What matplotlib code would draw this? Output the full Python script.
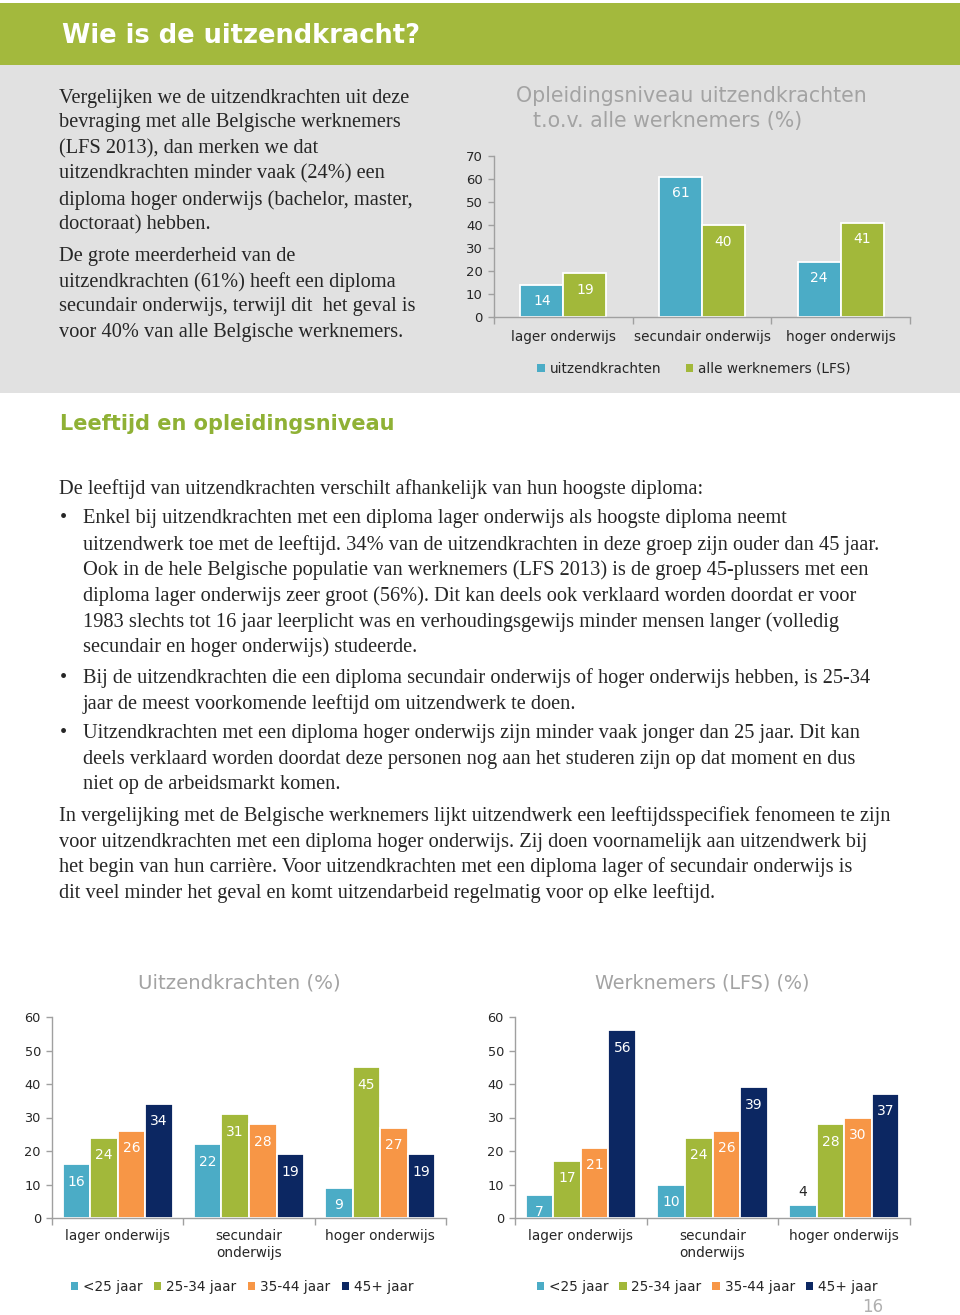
import matplotlib
matplotlib.use('Agg')
import matplotlib.pyplot as plt
from matplotlib.patches import Rectangle
import numpy as np

W, H = 960, 1315

# ---------------- data ----------------
edu_levels = ['lager onderwijs', 'secundair onderwijs', 'hoger onderwijs']
edu_levels_wrapped = ['lager onderwijs', 'secundair\nonderwijs', 'hoger onderwijs']
uitzendkrachten = [14, 61, 24]
alle_werknemers = [19, 40, 41]

age_groups = ['<25 jaar', '25-34 jaar', '35-44 jaar', '45+ jaar']
uitz_lt25 = [16, 22, 9]
uitz_25_34 = [24, 31, 45]
uitz_35_44 = [26, 28, 27]
uitz_45plus = [34, 19, 19]
lfs_lt25 = [7, 10, 4]
lfs_25_34 = [17, 24, 28]
lfs_35_44 = [21, 26, 30]
lfs_45plus = [56, 39, 37]

intro_lines = [
    "Vergelijken we de uitzendkrachten uit deze",
    "bevraging met alle Belgische werknemers",
    "(LFS 2013), dan merken we dat",
    "uitzendkrachten minder vaak (24%) een",
    "diploma hoger onderwijs (bachelor, master,",
    "doctoraat) hebben.",
    "De grote meerderheid van de",
    "uitzendkrachten (61%) heeft een diploma",
    "secundair onderwijs, terwijl dit  het geval is",
    "voor 40% van alle Belgische werknemers.",
]
intro_y = [96, 121, 147, 172, 198, 223, 254, 280, 305, 331]

body_lines = [
    (0, "De leeftijd van uitzendkrachten verschilt afhankelijk van hun hoogste diploma:"),
    (2, "Enkel bij uitzendkrachten met een diploma lager onderwijs als hoogste diploma neemt"),
    (1, "uitzendwerk toe met de leeftijd. 34% van de uitzendkrachten in deze groep zijn ouder dan 45 jaar."),
    (1, "Ook in de hele Belgische populatie van werknemers (LFS 2013) is de groep 45-plussers met een"),
    (1, "diploma lager onderwijs zeer groot (56%). Dit kan deels ook verklaard worden doordat er voor"),
    (1, "1983 slechts tot 16 jaar leerplicht was en verhoudingsgewijs minder mensen langer (volledig"),
    (1, "secundair en hoger onderwijs) studeerde."),
    (2, "Bij de uitzendkrachten die een diploma secundair onderwijs of hoger onderwijs hebben, is 25-34"),
    (1, "jaar de meest voorkomende leeftijd om uitzendwerk te doen."),
    (2, "Uitzendkrachten met een diploma hoger onderwijs zijn minder vaak jonger dan 25 jaar. Dit kan"),
    (1, "deels verklaard worden doordat deze personen nog aan het studeren zijn op dat moment en dus"),
    (1, "niet op de arbeidsmarkt komen."),
    (0, "In vergelijking met de Belgische werknemers lijkt uitzendwerk een leeftijdsspecifiek fenomeen te zijn"),
    (0, "voor uitzendkrachten met een diploma hoger onderwijs. Zij doen voornamelijk aan uitzendwerk bij"),
    (0, "het begin van hun carrière. Voor uitzendkrachten met een diploma lager of secundair onderwijs is"),
    (0, "dit veel minder het geval en komt uitzendarbeid regelmatig voor op elke leeftijd."),
]
body_y = [487, 517, 543, 568, 594, 620, 645, 676, 702, 732, 758, 783, 814, 840, 865, 891]

# ---------------- style ----------------
CYAN = '#4bacc6'
GREEN = '#a2b83a'
ORANGE = '#f79646'
NAVY = '#0c2762'
HEADER_GREEN = '#a3b93d'
BAND_GRAY = '#e1e1e1'
AXIS_GRAY = '#a0a0a0'
TEXT_DARK = '#262626'
TITLE_GRAY = '#a3a3a3'
SANS = 'DejaVu Sans'
SERIF = 'Liberation Serif'
BODY_SIZE = 14.7

fig = plt.figure(figsize=(W / 100, H / 100), dpi=100)
fig.patch.set_facecolor('white')


def fx(x):
    return x / W


def fy(y):
    return 1 - y / H


def px_axes(x0, y_top, x1, y_bot):
    return fig.add_axes([fx(x0), fy(y_bot), (x1 - x0) / W, (y_bot - y_top) / H])


# background bands (below everything)
fig.patches.append(Rectangle((0, fy(65)), 1, (65 - 3) / H, transform=fig.transFigure,
                             facecolor=HEADER_GREEN, edgecolor='none', zorder=-10))
fig.patches.append(Rectangle((0, fy(393)), 1, (393 - 65) / H, transform=fig.transFigure,
                             facecolor=BAND_GRAY, edgecolor='none', zorder=-10))

fig.text(fx(62), fy(36), "Wie is de uitzendkracht?", color='white', fontsize=18.5,
         fontweight='bold', family=SANS, va='center', ha='left')

for line, y in zip(intro_lines, intro_y):
    fig.text(fx(59), fy(y + 2), line, fontsize=BODY_SIZE, family=SERIF, color=TEXT_DARK,
             va='center', ha='left')

fig.text(fx(60), fy(424), "Leeftijd en opleidingsniveau", color='#8fb135', fontsize=15,
         fontweight='bold', family=SANS, va='center', ha='left')

for (kind, line), y in zip(body_lines, body_y):
    if kind == 2:
        fig.text(fx(60), fy(y + 2), "\u2022", fontsize=BODY_SIZE, family=SERIF, color=TEXT_DARK,
                 va='center', ha='left')
    x = 59 if kind == 0 else 83
    fig.text(fx(x), fy(y + 2), line, fontsize=BODY_SIZE, family=SERIF, color=TEXT_DARK,
             va='center', ha='left')

fig.text(fx(873), fy(1307), "16", fontsize=12, family=SANS, color='#b0b0b0',
         va='center', ha='center')


def style_axes(ax, ymax, step, labels, label_pad, ytick_size):
    n = len(labels)
    ax.set_xlim(-0.5, n - 0.5)
    ax.set_ylim(0, ymax)
    ax.set_yticks(np.arange(0, ymax + 1, step))
    ax.set_xticks(np.arange(-0.5, n, 1.0))
    ax.set_xticklabels([])
    ax.set_xticks(np.arange(n), minor=True)
    ax.set_xticklabels(labels, minor=True, fontsize=9.8, family=SANS, color=TEXT_DARK,
                       linespacing=1.25)
    ax.tick_params(axis='x', which='major', length=5, width=1, color=AXIS_GRAY,
                   direction='out')
    ax.tick_params(axis='x', which='minor', length=0, pad=label_pad)
    ax.tick_params(axis='y', length=4, width=1, color=AXIS_GRAY, labelsize=ytick_size,
                   labelcolor=TEXT_DARK, pad=4)
    for lab in ax.get_yticklabels():
        lab.set_family(SANS)
    for s in ('top', 'right'):
        ax.spines[s].set_visible(False)
    for s in ('left', 'bottom'):
        ax.spines[s].set_color(AXIS_GRAY)
        ax.spines[s].set_linewidth(1)
    ax.patch.set_visible(False)


def draw_bars(ax, series, colors, width, offset_pt):
    n = len(series)
    x = np.arange(len(series[0]))
    for i, (vals, col) in enumerate(zip(series, colors)):
        xs = x + (i - (n - 1) / 2) * width
        ax.bar(xs, vals, width=width, color=col, edgecolor='white', linewidth=1.3, zorder=2)
        for xi, v in zip(xs, vals):
            if v < 5:
                ax.annotate(str(v), (xi, v), xytext=(0, 9), textcoords='offset points',
                            ha='center', va='center', color=TEXT_DARK, fontsize=10,
                            family=SANS, zorder=3)
            else:
                ax.annotate(str(v), (xi, v), xytext=(0, -offset_pt), textcoords='offset points',
                            ha='center', va='center', color='white', fontsize=10,
                            family=SANS, zorder=3)


def add_legend(ax, labels, colors, cx, cy, colspace):
    handles = [Rectangle((0, 0), 1, 1, facecolor=c, edgecolor='none') for c in colors]
    ax.legend(handles, labels, loc='center', bbox_to_anchor=(fx(cx), fy(cy)),
              bbox_transform=fig.transFigure, ncol=len(labels), frameon=False,
              handlelength=0.55, handleheight=0.55, handletextpad=0.35,
              columnspacing=colspace, prop={'family': SANS, 'size': 9.8},
              labelcolor=TEXT_DARK, borderpad=0, borderaxespad=0)


# ---------- top chart ----------
ax1 = px_axes(494, 156, 910, 317)
style_axes(ax1, 70, 10, edu_levels, 9, 9.5)
draw_bars(ax1, [uitzendkrachten, alle_werknemers], [CYAN, GREEN], 0.31, 12)
fig.text(fx(691), fy(96), "Opleidingsniveau uitzendkrachten", fontsize=14.8, family=SANS,
         color=TITLE_GRAY, ha='center', va='center')
fig.text(fx(668), fy(121), "t.o.v. alle werknemers (%)", fontsize=14.8, family=SANS,
         color=TITLE_GRAY, ha='center', va='center')
add_legend(ax1, ['uitzendkrachten', 'alle werknemers (LFS)'], [CYAN, GREEN], 694, 369, 1.8)

# ---------- bottom left chart ----------
age_colors = [CYAN, GREEN, ORANGE, NAVY]
ax2 = px_axes(52, 1017, 446, 1218)
style_axes(ax2, 60, 10, edu_levels_wrapped, 8, 9.3)
draw_bars(ax2, [uitz_lt25, uitz_25_34, uitz_35_44, uitz_45plus], age_colors, 0.21, 12.5)
fig.text(fx(239), fy(983), "Uitzendkrachten (%)", fontsize=14.2, family=SANS,
         color=TITLE_GRAY, ha='center', va='center')
add_legend(ax2, age_groups, age_colors, 242, 1287, 0.85)

# ---------- bottom right chart ----------
ax3 = px_axes(515, 1017, 910, 1218)
style_axes(ax3, 60, 10, edu_levels_wrapped, 8, 9.3)
draw_bars(ax3, [lfs_lt25, lfs_25_34, lfs_35_44, lfs_45plus], age_colors, 0.21, 12.5)
fig.text(fx(702), fy(983), "Werknemers (LFS) (%)", fontsize=13.8, family=SANS,
         color=TITLE_GRAY, ha='center', va='center')
add_legend(ax3, age_groups, age_colors, 707, 1287, 0.8)

fig.savefig('out.png', dpi=100, facecolor=fig.get_facecolor())
